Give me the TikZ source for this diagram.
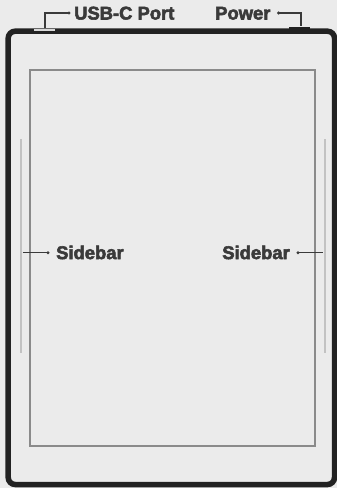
\documentclass[tikz,border=0pt]{standalone}
\usepackage{fontspec}
\setmainfont{Liberation Sans}
\newfontfamily\heavyfont[FakeBold=3]{Liberation Sans Bold}
\begin{document}
\begin{tikzpicture}[x=1pt,y=-1pt,
  lbl/.style={inner sep=0pt,font=\fontsize{18.4}{18.4}\heavyfont,text=labelc},
  conn/.style={draw=labelc,line width=1.2pt},
  dotc/.style={fill=labelc,draw=none},
  sidebarline/.style={draw=sideb,line width=2pt},
]
\definecolor{bgc}{HTML}{EBEBEB}
\definecolor{framec}{HTML}{222222}
\definecolor{labelc}{HTML}{3A3A3A}
\definecolor{screenc}{HTML}{8A8A8A}
\definecolor{sideb}{HTML}{C2C2C2}
\definecolor{portc}{HTML}{D9D9D9}
\fill[bgc] (0,0) rectangle (337,488);
\useasboundingbox (0,0) rectangle (337,488);
% power button
\fill[framec] (289,27) rectangle (310,31);
% device frame
\draw[framec,line width=5.5pt,rounded corners=7pt,fill=bgc] (8.2,31.2) rectangle (334.5,484.5);
% usb-c port
\draw[portc,line width=2pt] (34,30) -- (55,30);
% screen
\draw[screenc,line width=1.8pt] (30,70) rectangle (315,446);
% sidebars
\draw[sidebarline] (21,139) -- (21,353);
\draw[sidebarline] (324.5,139) -- (324.5,353);
% labels
\node[lbl,anchor=base west] (usb) at (74,19.5) {USB-C Port};
\node[lbl,anchor=base west] (pwr) at (215,19.5) {Power};
\node[lbl,anchor=west] (sbl) at (56,252.5) {Sidebar};
\node[lbl,anchor=east] (sbr) at (290,252.5) {Sidebar};
% connector ends
\coordinate (usbend) at (45,28);
\coordinate (pwrend) at (301,26);
\coordinate (sblend) at (22.5,252.7);
\coordinate (sbrend) at (323,252.7);
\coordinate (usbdot) at ([xshift=-5pt]usb.west |- 0,13);
\coordinate (pwrdot) at ([xshift=8pt]pwr.east |- 0,13);
\coordinate (sbldot) at ([xshift=-8pt]sbl.west |- 0,252.7);
\coordinate (sbrdot) at ([xshift=8pt]sbr.east |- 0,252.7);
\draw[conn] (usbend) |- (usbdot);
\draw[conn] (pwrdot) -| (pwrend);
\draw[conn] (sblend) -- (sbldot);
\draw[conn] (sbrdot) -- (sbrend);
\foreach \d in {usbdot,pwrdot,sbldot,sbrdot} \fill[dotc] (\d) circle (1.7pt);
\end{tikzpicture}
\end{document}
